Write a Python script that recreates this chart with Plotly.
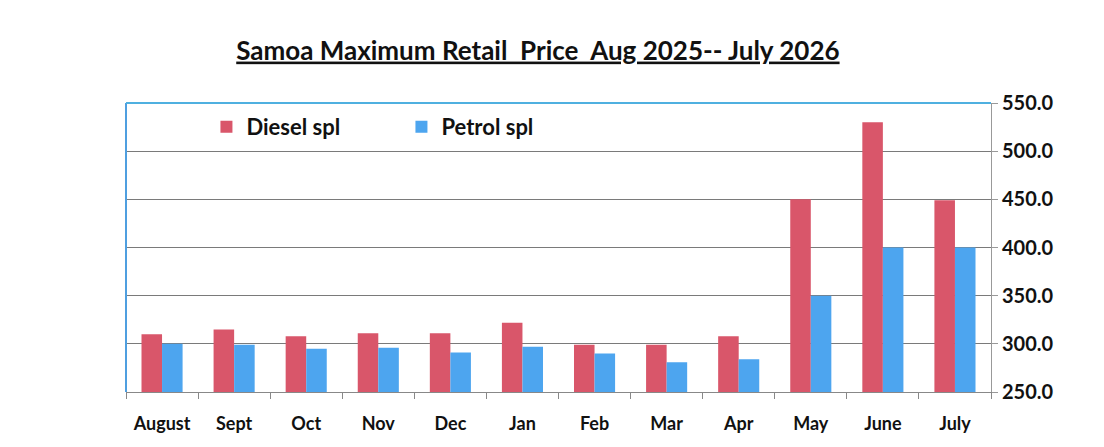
import plotly.graph_objects as go

months = ["August", "Sept", "Oct", "Nov", "Dec", "Jan", "Feb", "Mar", "Apr", "May", "June", "July"]
diesel = [310, 315, 308, 311, 311, 322, 299, 299, 308, 450, 530, 449]
petrol = [300, 299, 295, 296, 291, 297, 290, 281, 284, 350, 400, 400]
y_ticks = [250, 300, 350, 400, 450, 500, 550]

FONT = "Lato"
fig = go.Figure()
fig.add_trace(go.Bar(x=months, y=diesel, name="<b>Diesel spl</b>", marker=dict(color="#d9566a", line=dict(width=0)), base=0))
fig.add_trace(go.Bar(x=months, y=petrol, name="<b>Petrol spl</b>", marker=dict(color="#4da5ef", line=dict(width=0)), base=0))

fig.update_layout(
    width=1104, height=447,
    margin=dict(l=118, r=121, t=95, b=63, autoexpand=False),
    paper_bgcolor="white", plot_bgcolor="white",
    barmode="group", bargap=0.43, bargroupgap=0,
    title=dict(text="<b><u>Samoa Maximum Retail\u00a0 Price\u00a0 Aug 2025-- July 2026</u></b>",
               x=0.480, xanchor="center", y=0.905, yanchor="middle",
               font=dict(family=FONT, size=26, color="#111")),
    legend=dict(orientation="h", x=0.093, y=0.99, xanchor="left", yanchor="top",
                font=dict(family=FONT, size=22, color="#111"),
                bgcolor="rgba(0,0,0,0)", entrywidth=150, entrywidthmode="pixels",
                itemwidth=30, traceorder="normal"),
    xaxis=dict(showline=True, linecolor="#888", linewidth=1, ticks="outside",
               tickson="boundaries", ticklen=6, tickcolor="#888",
               tickfont=dict(family=FONT, size=18, color="#111"),
               ticklabelstandoff=15, tickprefix="<b>", ticksuffix="</b>",
               showgrid=False),
    yaxis=dict(side="right", range=[250, 550], tickvals=y_ticks,
               ticktext=[f"<b>{v:.1f}</b>" for v in y_ticks],
               showline=True, linecolor="#999", linewidth=1, ticks="outside",
               ticklen=6, tickcolor="#999", showgrid=True, gridcolor="#7a7a7a",
               gridwidth=1, tickfont=dict(family=FONT, size=20, color="#111"),
               zeroline=False),
    showlegend=True,
)
fig.add_shape(type="line", xref="paper", yref="paper", x0=0, x1=0, y0=0, y1=1,
              line=dict(color="#4f9fe0", width=2))
fig.add_shape(type="line", xref="paper", yref="paper", x0=0, x1=1, y0=1, y1=1,
              line=dict(color="#4fb0e0", width=2))
fig.write_html("out.html")
